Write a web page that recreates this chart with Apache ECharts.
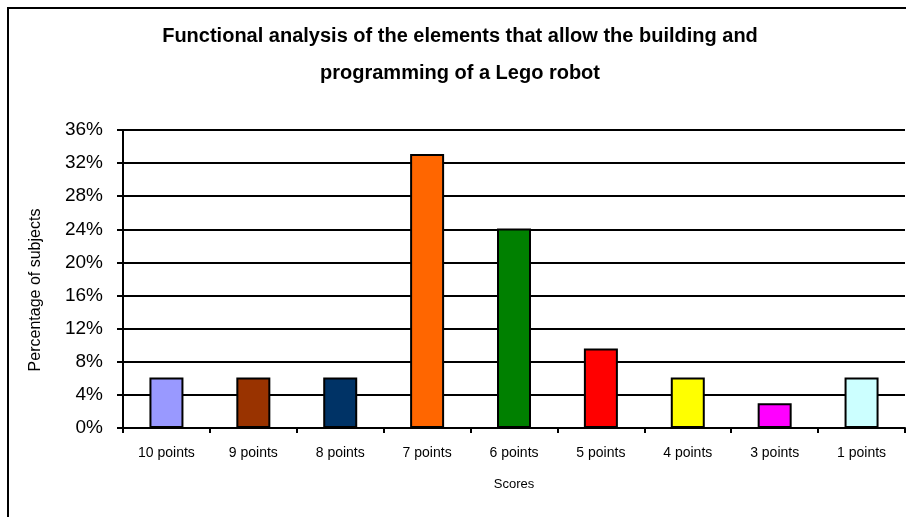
<!DOCTYPE html>
<html>
<head>
<meta charset="utf-8">
<script src="https://cdn.jsdelivr.net/npm/echarts@6/dist/echarts.min.js"></script>
<style>
  html, body { margin: 0; padding: 0; background: #fff; }
  #scoresChart { width: 906px; height: 517px; }
</style>
</head>
<body>
<div id="scoresChart"></div>
<script>
const categories = ['10 points', '9 points', '8 points', '7 points', '6 points', '5 points', '4 points', '3 points', '1 points']
const percentages = [6.1, 6.1, 6.1, 33.1, 24.1, 9.6, 6.1, 3.0, 6.1]
const barColors = ['#9999FF', '#993300', '#003366', '#FF6600', '#008000', '#FF0000', '#FFFF00', '#FF00FF', '#CCFFFF']

const chartInit = () => {
  let myChart = echarts.init(document.getElementById('scoresChart'))
  let option = {
    backgroundColor: '#fff',
    animation: false,
    title: {
      text: 'Functional analysis of the elements that allow the building and\nprogramming of a Lego robot',
      left: 455,
      top: 13,
      textAlign: 'center',
      textStyle: {
        fontFamily: 'Liberation Sans Narrow, Arial Narrow, Liberation Sans, sans-serif',
        fontSize: 20,
        fontWeight: 'bold',
        color: '#000',
        lineHeight: 37,
      },
    },
    graphic: [
      {
        type: 'rect',
        shape: { x: 8, y: 8, width: 940, height: 560 },
        style: { fill: 'none', stroke: '#000', lineWidth: 2 },
        silent: true,
      },
    ],
    grid: {
      left: 123,
      right: 1,
      top: 130,
      bottom: 89,
    },
    xAxis: {
      type: 'category',
      data: categories,
      name: 'Scores',
      nameLocation: 'middle',
      nameGap: 50,
      nameTextStyle: { fontFamily: 'Liberation Sans, Arial, sans-serif', fontSize: 13, color: '#000' },
      axisLine: { lineStyle: { color: '#000', width: 2 } },
      axisTick: { show: true, length: 5, lineStyle: { color: '#000', width: 2 } },
      axisLabel: { fontFamily: 'Liberation Sans, Arial, sans-serif', fontSize: 14, color: '#000', margin: 18 },
    },
    yAxis: {
      type: 'value',
      min: 0,
      max: 36,
      interval: 4,
      name: 'Percentage of subjects',
      nameLocation: 'middle',
      nameGap: 79,
      nameTextStyle: {
        fontFamily: 'Liberation Sans, Arial, sans-serif',
        fontSize: 16,
        color: '#000',
        padding: [0, 22, 0, 0],
      },
      axisLine: { show: true, lineStyle: { color: '#000', width: 2 } },
      axisTick: { show: true, length: 6, lineStyle: { color: '#000', width: 2 } },
      axisLabel: {
        formatter: '{value}%',
        fontFamily: 'Liberation Sans, Arial, sans-serif',
        fontSize: 19,
        color: '#000',
        margin: 20,
      },
      splitLine: { lineStyle: { color: '#000', width: 2 } },
    },
    series: [
      {
        name: 'Percentage',
        type: 'bar',
        barWidth: 34,
        data: percentages.map((v, i) => ({
          value: v,
          itemStyle: { color: barColors[i], borderColor: '#000', borderWidth: 2 },
        })),
      },
    ],
  }
  myChart.setOption(option)
}

chartInit()
</script>
</body>
</html>
